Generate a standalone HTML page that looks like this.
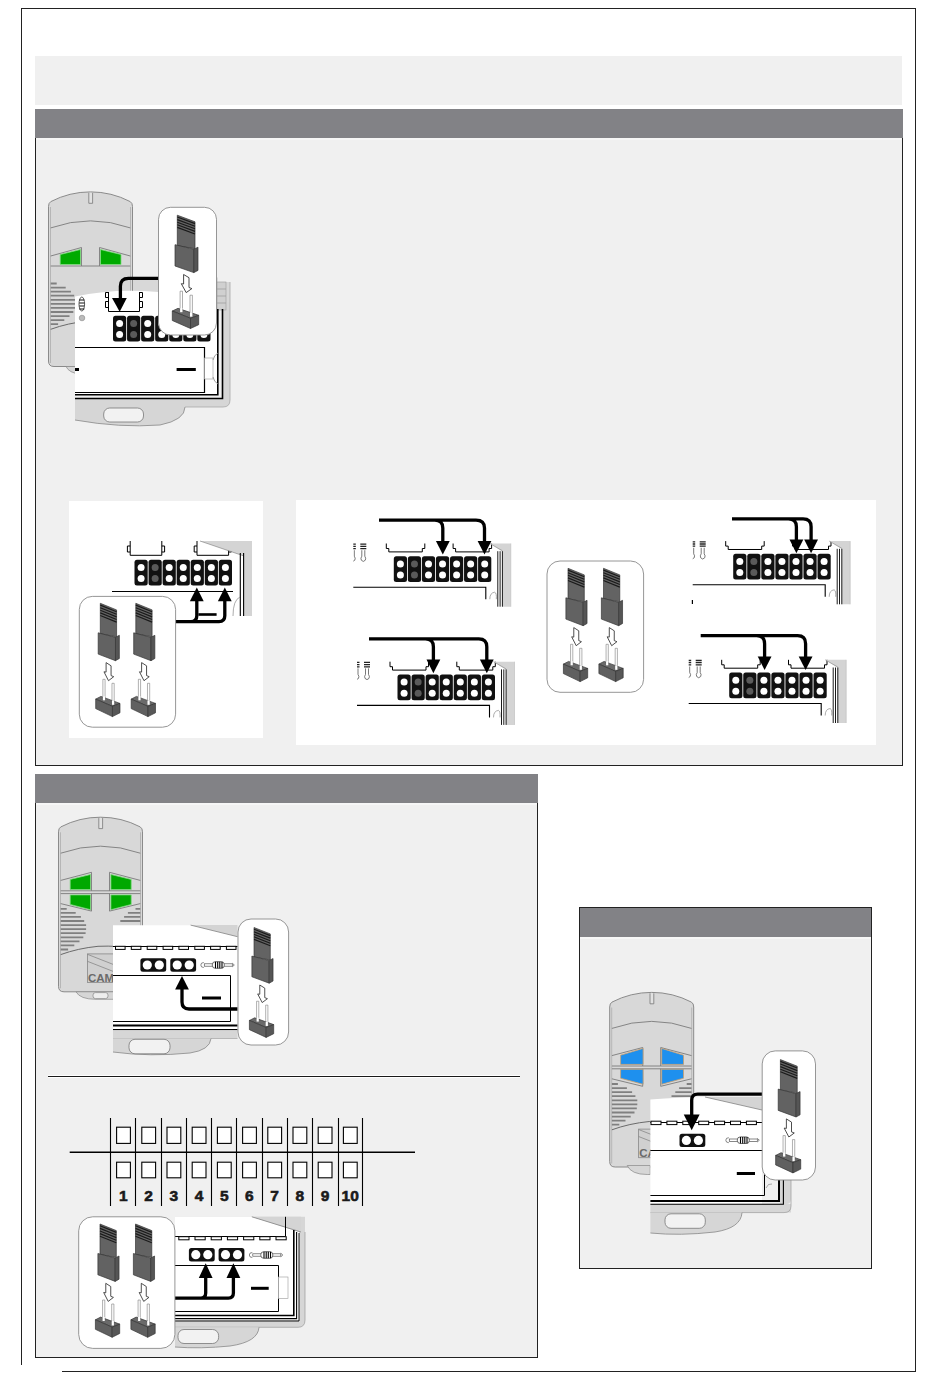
<!DOCTYPE html>
<html><head><meta charset="utf-8">
<style>
html,body{margin:0;padding:0;background:#fff;}
body{width:950px;height:1379px;position:relative;overflow:hidden;font-family:"Liberation Sans",sans-serif;}
.a{position:absolute;box-sizing:border-box;}
.lg{background:#f0f0f0;}
.hd{background:#828286;}
svg{position:absolute;overflow:visible;}
</style></head><body>
<!-- outer frame -->
<div class="a" style="left:21px;top:8px;width:895px;height:1px;background:#222"></div>
<div class="a" style="left:21px;top:8px;width:1px;height:1357px;background:#222"></div>
<div class="a" style="left:915px;top:8px;width:1px;height:1364px;background:#222"></div>
<div class="a" style="left:62px;top:1371px;width:854px;height:1px;background:#222"></div>

<!-- top gray box -->
<div class="a lg" style="left:35px;top:56px;width:867px;height:49px"></div>

<!-- section 1 -->
<div class="a lg" style="left:35px;top:137px;width:868px;height:629px;border:1px solid #222;border-top:none"></div>
<div class="a hd" style="left:35px;top:109px;width:868px;height:29px"></div><div class="a" style="left:36px;top:138px;width:866px;height:2px;background:#f6f6f6"></div>
<div class="a" style="left:69px;top:501px;width:194px;height:237px;background:#fff"></div>
<div class="a" style="left:296px;top:500px;width:580px;height:245px;background:#fff"></div>

<!-- section 2 -->
<div class="a lg" style="left:35px;top:802px;width:503px;height:556px;border:1px solid #222;border-top:none"></div>
<div class="a hd" style="left:35px;top:774px;width:503px;height:29px"></div><div class="a" style="left:36px;top:803px;width:501px;height:2px;background:#f6f6f6"></div>
<div class="a" style="left:48px;top:1075px;width:472px;height:3px;background:#fff"></div><div class="a" style="left:48px;top:1076px;width:472px;height:1px;background:#1a1a1a"></div>

<!-- section 3 -->
<div class="a lg" style="left:579px;top:907px;width:293px;height:362px;border:1px solid #222"></div>
<div class="a hd" style="left:580px;top:908px;width:291px;height:29px"></div><div class="a" style="left:580px;top:937px;width:291px;height:2px;background:#f6f6f6"></div>


<svg class="a" style="left:0;top:0" width="950" height="1379" viewBox="0 0 950 1379">
<defs>
 <g id="blk"><rect width="13.2" height="25.8" rx="2.5" fill="#111"/><circle cx="6.6" cy="7.7" r="3.5" fill="#fff"/><circle cx="6.6" cy="18.8" r="3.5" fill="#fff"/></g>
 <g id="blkg"><rect width="13.2" height="25.8" rx="2.5" fill="#111"/><circle cx="6.6" cy="7.7" r="3.5" fill="#5a5a5a"/><circle cx="6.6" cy="18.8" r="3.5" fill="#5a5a5a"/></g>
 <g id="row7"><use href="#blk"/><use href="#blkg" x="14.05"/><use href="#blk" x="28.1"/><use href="#blk" x="42.15"/><use href="#blk" x="56.2"/><use href="#blk" x="70.25"/><use href="#blk" x="84.3"/></g>
 <g id="jumper" stroke="#333" stroke-width="0.7" stroke-linejoin="round">
  <polygon points="0,0 17.7,6.6 17.7,33.5 0,30.5" fill="#636363"/>
  <path d="M0,1.8 L17.7,8.4 M0,4.4 L17.7,11 M0,7 L17.7,13.6 M0,9.6 L17.7,16.2 M0,12.2 L17.7,18.8" stroke="#1a1a1a" stroke-width="1.2"/>
  <polygon points="-2.3,29.5 16.5,34 16.5,57.4 -2.3,50.8" fill="#626262"/>
  <polygon points="16.5,34 20.7,32 20.7,55.2 16.5,57.4" fill="#555"/>
  <path d="M6.3,59.3 L11.7,62.5 V72.3 L14.6,73.4 L8.9,77.4 L4,68.5 L6.3,68.8 Z" fill="#fff" stroke="#333" stroke-width="0.9"/>
  <rect x="2.8" y="76" width="2.4" height="21" fill="#fff" stroke="#777" stroke-width="0.6"/>
  <rect x="12.7" y="80" width="2.4" height="21" fill="#fff" stroke="#777" stroke-width="0.6"/>
  <polygon points="-5,95.8 0.7,93.1 21.4,100.1 13.2,103.1" fill="#6a6a6a"/>
  <polygon points="-5,95.8 13.2,103.1 13.2,113.3 -5,105.3" fill="#606060"/>
  <polygon points="13.2,103.1 21.4,100.1 21.4,109.5 13.2,113.3" fill="#575757"/>
  <rect x="2.8" y="93" width="2.4" height="4" fill="#fff" stroke="none"/>
  <rect x="12.7" y="97" width="2.4" height="4.5" fill="#fff" stroke="none"/>
 </g>

 <g id="relay" stroke="#000" stroke-width="1" fill="none"><path d="M-2.5,0 V5 H0 V8.4 H33.5 V5 H36 V0"/></g>
 <g id="spring" stroke="#222" stroke-width="0.8" fill="none">
  <path d="M0,0 H6 M0,2.2 H6 M0,4.4 H6" stroke-width="1.3"/>
  <path d="M1.5,6 V12 Q0,14 1,16 Q3,18.5 5,16 Q6,14 4.5,12 V6" stroke="#555"/>
 </g>
 <g id="view">
  <use href="#row7"/>
  <use href="#relay" x="-5" y="-12.7"/>
  <use href="#relay" x="61.8" y="-12.7"/>
  <path d="M-40.5,31 H92 V43" stroke="#000" stroke-width="1.1" fill="none"/>
  <path d="M96,43 Q96,36.5 101,36 Q103,37 102.5,43" stroke="#888" stroke-width="0.7" fill="none"/>
  <polygon points="96,-12.7 117,-12.7 117,50.5 108.6,50.5 108.6,-4.5" fill="#d4d4d4"/>
  <path d="M96,-12.7 L108.6,-5.5" stroke="#888" stroke-width="0.6"/>
  <path d="M104,-5 V50.5 M106.3,-5 V50.5 M108.6,-5 V50.5" stroke="#000" stroke-width="0.9"/>
  <path d="M117,-12.7 V50.5" stroke="#bbb" stroke-width="0.6"/>
  <use href="#spring" x="-44" y="-12"/>
  <use href="#spring" x="-33.5" y="-12"/>
  <rect x="-52" y="-14" width="11.5" height="40" fill="#fff"/>
 </g>
 <polygon id="ahd" points="-6.9,0 6.9,0 0,13.6" fill="#000"/>

 <g id="blk2"><rect width="25.8" height="13.4" rx="2.5" fill="#111"/><circle cx="6.9" cy="6.7" r="4.6" fill="#fff"/><circle cx="18.9" cy="6.7" r="4.6" fill="#fff"/></g>
 <g id="resist" fill="none" stroke="#555" stroke-width="0.7">
  <rect x="4" y="-1.2" width="8.5" height="2.4" fill="#fff"/>
  <rect x="23.5" y="-1.2" width="8.5" height="2.4" fill="#fff"/>
  <path d="M3.5,-2.5 Q0.5,-2.5 0.5,0 Q0.5,2.5 3.5,2.5 M32,-1.8 L34,0 L32,1.8"/>
  <rect x="12" y="-3.3" width="12" height="6.6" rx="3" fill="#fff" stroke="#333"/>
  <path d="M15.2,-3.2 V3.2 M17.4,-3.3 V3.3 M19.5,-3.3 V3.3 M21.7,-3.2 V3.2" stroke="#000" stroke-width="1.1"/>
 </g>
 <g id="btn4">
  <g stroke="#7a7a7a" stroke-width="0.9" fill="none">
   <path d="M2.7,62.1 L33.5,54 V72.5 M2.7,72.5 H82.3 M2.7,75.3 H82.3 M33.5,75.3 V92.8 L2.7,85.3"/>
   <path d="M82.3,62.1 L51.5,54 V72.5 M51.5,75.3 V92.8 L82.3,85.3"/>
  </g>
 </g>
 <g id="slots8" fill="#fff" stroke="#000" stroke-width="1"></g>
 <g id="remote">
  <path d="M0.5,168 V13.5 Q0.5,10 2.8,8.6 A86,86 0 0 1 82.2,8.6 Q84.5,10 84.5,13.5 V168 Q84.5,173.5 79,173.5 H6 Q0.5,173.5 0.5,168 Z" fill="#d8d8d8" stroke="#8a8a8a" stroke-width="1"/>
  <path d="M2.5,14 V170 M82.5,14 V170" stroke="#a0a0a0" stroke-width="0.6" fill="none"/>
  <path d="M40.8,-0.2 V10.3 H44.6 V-0.2" stroke="#777" stroke-width="0.8" fill="#e2e2e2"/>
  <path d="M2.7,34.9 A119.4,119.4 0 0 1 82.3,34.9" stroke="#7a7a7a" stroke-width="0.9" fill="none"/>
  <path d="M2.7,136.3 Q20,130 40,128 Q60,127 82.3,131" stroke="#6a6a6a" stroke-width="1" fill="none"/>
 </g>
 <g id="stripesL" stroke="#808080" stroke-width="1.8"><path d="M2.7,90.50 H8.7 M2.7,94.57 H17.7 M2.7,98.64 H22.9 M2.7,102.71 H26.2 M2.7,106.78 H28.1 M2.7,110.85 H28.1 M2.7,114.92 H27.6 M2.7,118.99 H25.3 M2.7,123.06 H21.5 M2.7,127.13 H16.3 M2.7,131.20 H10.1"/></g>
 <g id="stripesR" stroke="#808080" stroke-width="1.8"><path d="M77.5,90.50 H82.3 M69.9,94.57 H82.3 M66.1,98.64 H82.3 M62.3,102.71 H82.3"/></g>
</defs>

<!-- ===== Illustration A (section 1 remote) ===== -->
<g id="illA">
 <use href="#remote" x="48" y="193"/>
 <use href="#stripesL" x="48" y="193"/>
 <path d="M66,366.5 Q69,373 80,374 V366.5 Z" fill="#d6d6d6" stroke="#888" stroke-width="0.7"/>
 <g transform="translate(48,193)" stroke="#7a7a7a" stroke-width="0.9" fill="none">
  <path d="M2.7,63 L33.5,54.5 L33.5,73 M2.7,73 H82.3 M51.5,73 L51.5,54.5 L82.3,63"/>
  <polygon points="12.2,61.5 32.5,56.5 32.5,71.5 12.2,71.5" fill="#00aa00" stroke="#7fdc7f" stroke-width="0.8"/>
  <polygon points="52.5,56.5 73,61.5 73,71.5 52.5,71.5" fill="#00aa00" stroke="#7fdc7f" stroke-width="0.8"/>
 </g>
 <!-- housing -->
 <rect x="133" y="277.5" width="85" height="25" fill="#d8d8d8"/><rect x="217" y="282" width="13" height="20" fill="#d8d8d8"/>
 <path d="M75,296.5 Q115,288 158,292 L217,292 L217,395 L75,395 Z" fill="#fff"/>
 <path d="M222.5,302 L230,302 L230,400 Q230,407 223,407 L75,407 L75,398.5 L222.5,398.5 Z" fill="#d6d6d6"/><path d="M230,282 V400 Q230,407 223,407 H185" stroke="#a8a8a8" stroke-width="0.8" fill="none"/>
 <rect x="217" y="282" width="9" height="28" fill="#d0d0d0" stroke="#999" stroke-width="0.6"/>
 <path d="M217,289 H226 M217,296 H226 M217,303 H226" stroke="#999" stroke-width="0.7"/>
 <path d="M217.8,309 V394.7 H75" stroke="#000" stroke-width="1.6" fill="none"/>
 <path d="M222.5,309 V398.5 H75" stroke="#000" stroke-width="1.6" fill="none"/>
 <path d="M75,407 L185,407 Q185,420 160,425 Q120,428 75,420 Z" fill="#d6d6d6"/>
 <path d="M185,407 Q185,420 160,425 Q120,428 75,420" stroke="#888" stroke-width="0.8" fill="none"/>
 <rect x="103.7" y="408" width="39.8" height="14" rx="6" fill="#f2f2f2" stroke="#777" stroke-width="0.8"/>
 <!-- battery -->
 <path d="M75,347.5 H204.5 V392.5 H75" fill="#fff" stroke="#000" stroke-width="1.2"/>
 <rect x="176.6" y="368" width="19.2" height="3" fill="#000"/>
 <rect x="75" y="368" width="4" height="3" fill="#000"/>
 <rect x="204.5" y="358" width="8.5" height="21" fill="#fff" stroke="#999" stroke-width="0.6"/><path d="M213,360 Q214,355 218,353 M213,377 Q214,382 218,384" stroke="#888" stroke-width="0.8" fill="none"/>
 <!-- relay -->
 <path d="M108.5,292 V311.5 H139.5 V292 M105.5,292.5 H108.5 V297.5 H105.5 Z M105.5,301.5 H108.5 V307.5 H105.5 Z M139.5,292.5 H142.5 V297.5 H139.5 Z M139.5,301.5 H142.5 V307.5 H139.5 Z" stroke="#000" stroke-width="1" fill="#fff"/>
 <!-- spring -->
 <ellipse cx="81.8" cy="304" rx="2.8" ry="7" fill="#fff" stroke="#333" stroke-width="0.8"/>
 <path d="M79.3,300 H84.3 M79.3,303 H84.3 M79.3,306 H84.3 M79.3,309 H84.3" stroke="#111" stroke-width="1"/>
 <circle cx="82" cy="318" r="2.8" fill="#bbb" stroke="#888" stroke-width="0.6"/>
 <use href="#row7" x="113" y="315.8"/>
 <!-- arrow -->
 <path d="M160,278.3 H128.4 Q120.4,278.3 120.4,286.3 V299" stroke="#000" stroke-width="3.3" fill="none"/>
 <polygon points="112,297.9 126.8,297.9 119.7,311.8" fill="#000"/>
 <!-- bubble -->
 <rect x="158.5" y="207.3" width="58" height="127.7" rx="12" fill="#fff" stroke="#8a8a8a" stroke-width="0.9"/>
 <use href="#jumper" x="177.3" y="215.2"/>
</g>

<!-- ===== Panel 1 ===== -->
<g id="p1">
 <use href="#row7" x="134.5" y="559.7"/>
 <g stroke="#000" stroke-width="1" fill="none">
  <path d="M130.2,541 V555.3 H161.8 V541 M130.2,546 H127.4 V552 H130.2 M161.8,546 H164.6 V552 H161.8"/>
  <path d="M197,541 V555.3 H228.6 V541 M197,546 H194.2 V552 H197 M228.6,546 H231.4 V552 H228.6"/>
  <path d="M112,591.5 H233" stroke-width="1"/>
 </g>
 <polygon points="200,541 252,541 252,616 244,616 244,556" fill="#d4d4d4"/>
 <path d="M200,541 L244,556" stroke="#777" stroke-width="0.6"/>
 <path d="M240.3,553 V616 M243.6,553 V616" stroke="#000" stroke-width="1.1"/>
 <path d="M233,616 Q233,600 240,597" stroke="#888" stroke-width="0.7" fill="none"/>
 <path d="M175.5,621.6 H191 Q196.8,621.6 196.8,615.8 V600 M175.5,621.6 H219 Q224.8,621.6 224.8,615.8 V600" stroke="#000" stroke-width="3.3" fill="none"/>
 <use href="#ahd" transform="translate(196.8,601.2) scale(1,-1)"/>
 <use href="#ahd" transform="translate(224.8,601.2) scale(1,-1)"/>
 <rect x="198.4" y="613.2" width="18.2" height="2.6" fill="#000"/>
 <rect x="79.3" y="596.4" width="96.3" height="130.8" rx="13" fill="#fff" stroke="#8a8a8a" stroke-width="0.9"/>
 <use href="#jumper" transform="translate(100.3,603.3) scale(0.92,1)"/>
 <use href="#jumper" transform="translate(135.8,603.3) scale(0.92,1)"/>
</g>

<!-- ===== Panel 2 ===== -->
<g id="p2">
 <use href="#view" x="393.8" y="556.2"/>
 <path d="M379,520.1 H476 Q484.5,520.1 484.5,528.1 V542 M379,520.1 H434.8 Q442.8,520.1 442.8,528.1 V542" stroke="#000" stroke-width="3.3" fill="none"/>
 <use href="#ahd" x="442.8" y="541"/><use href="#ahd" x="484.5" y="541"/>

 <use href="#view" x="397.5" y="674.4"/>
 <path d="M369,638.8 H478.8 Q486.8,638.8 486.8,646.8 V660 M369,638.8 H425.4 Q433.4,638.8 433.4,646.8 V660" stroke="#000" stroke-width="3.3" fill="none"/>
 <use href="#ahd" x="433.4" y="659.6"/><use href="#ahd" x="486.8" y="659.6"/>

 <use href="#view" x="733.2" y="553.8"/>
 <path d="M732,518.8 H803.1 Q811.1,518.8 811.1,526.8 V540 M732,518.8 H788.4 Q796.4,518.8 796.4,526.8 V540" stroke="#000" stroke-width="3.3" fill="none"/>
 <use href="#ahd" x="796.4" y="539.6"/><use href="#ahd" x="811.1" y="539.6"/>
 <path d="M692.4,600 V604" stroke="#000" stroke-width="1.2"/>

 <use href="#view" x="729.2" y="672.5"/>
 <path d="M700.7,635.7 H797.6 Q805.6,635.7 805.6,643.7 V657 M700.7,635.7 H756.6 Q764.6,635.7 764.6,643.7 V657" stroke="#000" stroke-width="3.3" fill="none"/>
 <use href="#ahd" x="764.6" y="656.4"/><use href="#ahd" x="805.6" y="656.4"/>

 <rect x="547" y="561" width="96.6" height="131.3" rx="13" fill="#fff" stroke="#8a8a8a" stroke-width="0.9"/>
 <use href="#jumper" transform="translate(568,568.3) scale(0.92,1)"/>
 <use href="#jumper" transform="translate(603.5,568.3) scale(0.92,1)"/>
</g>

<!-- ===== Section 2 remote ===== -->
<g id="s2a">
 <use href="#remote" x="58" y="818.3"/>
 <use href="#stripesL" x="58" y="818.3"/>
 <use href="#stripesR" x="58" y="818.3"/>
 <use href="#btn4" x="58" y="818.3"/>
 <g transform="translate(58,818.3)">
  <polygon points="12.2,61.1 32.5,56.2 32.5,71.3 12.2,71.3" fill="#00a800" stroke="#80d880" stroke-width="0.8"/>
  <polygon points="12.2,76.6 32.5,76.6 32.5,91.4 12.2,86.2" fill="#00a800" stroke="#80d880" stroke-width="0.8"/>
  <polygon points="52.9,56.2 73.2,61.1 73.2,71.3 52.9,71.3" fill="#00a800" stroke="#80d880" stroke-width="0.8"/>
  <polygon points="52.9,76.6 73.2,76.6 73.2,86.2 52.9,91.4" fill="#00a800" stroke="#80d880" stroke-width="0.8"/>
  <rect x="29.4" y="135.6" width="30" height="28.6" fill="#d0d0d0" stroke="#888" stroke-width="0.8"/>
  <path d="M29.4,136 L60,148 M29.4,143 L60,155" stroke="#888" stroke-width="0.8"/>
  <text x="30" y="163.4" font-family="Liberation Sans" font-weight="bold" font-size="11.5" fill="#6a6a6a">CAME</text>
  <path d="M18,173.5 Q22,181 38,181 L60,181 L60,173.5 Z" fill="#d6d6d6" stroke="#888" stroke-width="0.7"/>
  <rect x="35" y="174.3" width="15" height="6" rx="2.5" fill="#eee" stroke="#777" stroke-width="0.6"/>
 </g>
 <!-- pcb -->
 <path d="M113,925.3 H190.6 L237.5,936.7 V1030 H113 Z" fill="#fff"/>
 <polygon points="190.6,925.1 237.5,925.1 237.5,936.7" fill="#d4d4d4"/>
 <path d="M190.6,925.1 L237.5,936.7" stroke="#777" stroke-width="0.7"/>
 <path d="M113,946.5 H237.5" stroke="#000" stroke-width="1"/>
 <rect x="115.5" y="946.3" width="9.6" height="3.1" fill="#fff" stroke="#000" stroke-width="1"/><rect x="131.3" y="946.3" width="9.6" height="3.1" fill="#fff" stroke="#000" stroke-width="1"/><rect x="147.2" y="946.3" width="9.6" height="3.1" fill="#fff" stroke="#000" stroke-width="1"/><rect x="163.1" y="946.3" width="9.6" height="3.1" fill="#fff" stroke="#000" stroke-width="1"/><rect x="178.9" y="946.3" width="9.6" height="3.1" fill="#fff" stroke="#000" stroke-width="1"/><rect x="194.8" y="946.3" width="9.6" height="3.1" fill="#fff" stroke="#000" stroke-width="1"/><rect x="210.6" y="946.3" width="9.6" height="3.1" fill="#fff" stroke="#000" stroke-width="1"/><rect x="226.4" y="946.3" width="9.6" height="3.1" fill="#fff" stroke="#000" stroke-width="1"/>
 <use href="#blk2" x="140.4" y="958.3"/><use href="#blk2" x="170.3" y="958.3"/>
 <use href="#resist" x="200.3" y="965"/>
 <path d="M113,975.5 H230.5 V1021.5 H113" stroke="#000" stroke-width="1" fill="none"/>
 <rect x="202" y="996.5" width="19" height="3" fill="#000"/>
 <path d="M237.5,1009 H189 Q182,1009 182,1002 V988" stroke="#000" stroke-width="3.3" fill="none"/>
 <use href="#ahd" transform="translate(182,989.6) scale(1,-1)"/>
 <path d="M113,1025.6 H237.5" stroke="#000" stroke-width="2"/>
 <path d="M113,1029.6 H237.5" stroke="#000" stroke-width="1.2"/>
 <path d="M113,1030.2 H237.5 V1038.5 H113 Z" fill="#d6d6d6"/>
 <path d="M113,1038.5 H237.5" stroke="#999" stroke-width="0.6"/>
 <path d="M113,1038.5 H211 Q210,1050 190,1053 Q150,1057 113,1052 Z" fill="#d6d6d6"/>
 <path d="M211,1038.5 Q210,1050 190,1053 Q150,1057 113,1052" stroke="#888" stroke-width="0.8" fill="none"/>
 <rect x="129" y="1039.3" width="41" height="14.5" rx="6" fill="#f2f2f2" stroke="#777" stroke-width="0.8"/>
 <rect x="238" y="919" width="50.6" height="126" rx="13" fill="#fff" stroke="#8a8a8a" stroke-width="0.9"/>
 <use href="#jumper" transform="translate(254,927.5) scale(0.92,0.97)"/>
</g>

<!-- ===== Section 2 table ===== -->
<g id="s2t">
 <path d="M69.7,1152.2 H415" stroke="#000" stroke-width="1.6"/>
 <g stroke="#000" stroke-width="1.1" fill="none">
  <path d="M110.5,1118 V1206 M135.5,1118 V1206 M161.5,1118 V1206 M186.5,1118 V1206 M211.5,1118 V1206 M236.5,1118 V1206 M262.5,1118 V1206 M287.5,1118 V1206 M312.5,1118 V1206 M338.5,1118 V1206 M362.5,1118 V1206"/>
 </g>
 <rect x="116.6" y="1127.2" width="13.8" height="16.2" fill="#fff" stroke="#000" stroke-width="1.1"/><rect x="116.6" y="1162.2" width="13.8" height="15.6" fill="#fff" stroke="#000" stroke-width="1.1"/><rect x="141.8" y="1127.2" width="13.8" height="16.2" fill="#fff" stroke="#000" stroke-width="1.1"/><rect x="141.8" y="1162.2" width="13.8" height="15.6" fill="#fff" stroke="#000" stroke-width="1.1"/><rect x="167.0" y="1127.2" width="13.8" height="16.2" fill="#fff" stroke="#000" stroke-width="1.1"/><rect x="167.0" y="1162.2" width="13.8" height="15.6" fill="#fff" stroke="#000" stroke-width="1.1"/><rect x="192.2" y="1127.2" width="13.8" height="16.2" fill="#fff" stroke="#000" stroke-width="1.1"/><rect x="192.2" y="1162.2" width="13.8" height="15.6" fill="#fff" stroke="#000" stroke-width="1.1"/><rect x="217.4" y="1127.2" width="13.8" height="16.2" fill="#fff" stroke="#000" stroke-width="1.1"/><rect x="217.4" y="1162.2" width="13.8" height="15.6" fill="#fff" stroke="#000" stroke-width="1.1"/><rect x="242.6" y="1127.2" width="13.8" height="16.2" fill="#fff" stroke="#000" stroke-width="1.1"/><rect x="242.6" y="1162.2" width="13.8" height="15.6" fill="#fff" stroke="#000" stroke-width="1.1"/><rect x="267.8" y="1127.2" width="13.8" height="16.2" fill="#fff" stroke="#000" stroke-width="1.1"/><rect x="267.8" y="1162.2" width="13.8" height="15.6" fill="#fff" stroke="#000" stroke-width="1.1"/><rect x="293.0" y="1127.2" width="13.8" height="16.2" fill="#fff" stroke="#000" stroke-width="1.1"/><rect x="293.0" y="1162.2" width="13.8" height="15.6" fill="#fff" stroke="#000" stroke-width="1.1"/><rect x="318.2" y="1127.2" width="13.8" height="16.2" fill="#fff" stroke="#000" stroke-width="1.1"/><rect x="318.2" y="1162.2" width="13.8" height="15.6" fill="#fff" stroke="#000" stroke-width="1.1"/><rect x="343.4" y="1127.2" width="13.8" height="16.2" fill="#fff" stroke="#000" stroke-width="1.1"/><rect x="343.4" y="1162.2" width="13.8" height="15.6" fill="#fff" stroke="#000" stroke-width="1.1"/>
 <text x="123.4" y="1201.4" text-anchor="middle" font-family="Liberation Sans" font-weight="bold" font-size="15.5" fill="#1a1a1a" stroke="#1a1a1a" stroke-width="0.6">1</text><text x="148.6" y="1201.4" text-anchor="middle" font-family="Liberation Sans" font-weight="bold" font-size="15.5" fill="#1a1a1a" stroke="#1a1a1a" stroke-width="0.6">2</text><text x="173.8" y="1201.4" text-anchor="middle" font-family="Liberation Sans" font-weight="bold" font-size="15.5" fill="#1a1a1a" stroke="#1a1a1a" stroke-width="0.6">3</text><text x="199.0" y="1201.4" text-anchor="middle" font-family="Liberation Sans" font-weight="bold" font-size="15.5" fill="#1a1a1a" stroke="#1a1a1a" stroke-width="0.6">4</text><text x="224.2" y="1201.4" text-anchor="middle" font-family="Liberation Sans" font-weight="bold" font-size="15.5" fill="#1a1a1a" stroke="#1a1a1a" stroke-width="0.6">5</text><text x="249.4" y="1201.4" text-anchor="middle" font-family="Liberation Sans" font-weight="bold" font-size="15.5" fill="#1a1a1a" stroke="#1a1a1a" stroke-width="0.6">6</text><text x="274.6" y="1201.4" text-anchor="middle" font-family="Liberation Sans" font-weight="bold" font-size="15.5" fill="#1a1a1a" stroke="#1a1a1a" stroke-width="0.6">7</text><text x="299.8" y="1201.4" text-anchor="middle" font-family="Liberation Sans" font-weight="bold" font-size="15.5" fill="#1a1a1a" stroke="#1a1a1a" stroke-width="0.6">8</text><text x="325.0" y="1201.4" text-anchor="middle" font-family="Liberation Sans" font-weight="bold" font-size="15.5" fill="#1a1a1a" stroke="#1a1a1a" stroke-width="0.6">9</text><text x="350.2" y="1201.4" text-anchor="middle" font-family="Liberation Sans" font-weight="bold" font-size="15.5" fill="#1a1a1a" stroke="#1a1a1a" stroke-width="0.6">10</text>
</g>

<!-- ===== Section 2 lower pcb ===== -->
<g id="s2b">
 <path d="M175,1216.8 H305 V1320 Q305,1327.3 298,1327.3 H175 Z" fill="#d6d6d6"/>
 <path d="M305,1232 V1320 Q305,1327.3 298,1327.3 H175" stroke="#999" stroke-width="0.7" fill="none"/>
 <path d="M175,1216.8 H251.8 L299,1232 V1320 H175 Z" fill="#fff"/>
 <polygon points="251.8,1216.8 301,1216.8 301,1232" fill="#d4d4d4"/>
 <path d="M251.8,1216.8 L301,1232" stroke="#777" stroke-width="0.7"/>
 <path d="M285.5,1216.8 V1236.5 H175" stroke="#000" stroke-width="1" fill="none"/>
 <rect x="178.8" y="1236.7" width="10.2" height="3.1" fill="#fff" stroke="#000" stroke-width="1"/><rect x="195.0" y="1236.7" width="10.2" height="3.1" fill="#fff" stroke="#000" stroke-width="1"/><rect x="211.2" y="1236.7" width="10.2" height="3.1" fill="#fff" stroke="#000" stroke-width="1"/><rect x="227.4" y="1236.7" width="10.2" height="3.1" fill="#fff" stroke="#000" stroke-width="1"/><rect x="243.6" y="1236.7" width="10.2" height="3.1" fill="#fff" stroke="#000" stroke-width="1"/><rect x="259.8" y="1236.7" width="10.2" height="3.1" fill="#fff" stroke="#000" stroke-width="1"/><rect x="276.0" y="1236.7" width="10.2" height="3.1" fill="#fff" stroke="#000" stroke-width="1"/>
 <use href="#blk2" x="188.9" y="1248"/><use href="#blk2" x="218.6" y="1248"/>
 <use href="#resist" x="248.8" y="1255"/>
 <path d="M175,1265.5 H278.5 V1311.5 H175" stroke="#000" stroke-width="1" fill="none"/>
 <rect x="278.3" y="1277" width="9.7" height="21.6" fill="#fff" stroke="#999" stroke-width="0.6"/>
 <rect x="251" y="1286.8" width="17.7" height="3" fill="#000"/>
 <path d="M175,1298.1 H200.7 Q205.7,1298.1 205.7,1293.1 V1277 M175,1298.1 H228.4 Q233.4,1298.1 233.4,1293.1 V1277" stroke="#000" stroke-width="3.3" fill="none"/>
 <use href="#ahd" transform="translate(205.7,1278) scale(1,-1.08)"/>
 <use href="#ahd" transform="translate(233.4,1278) scale(1,-1.08)"/>
 <path d="M175,1315.5 H293.8 V1230" stroke="#000" stroke-width="1.6" fill="none"/>
 <path d="M175,1318.6 H296.6 V1232" stroke="#000" stroke-width="1.1" fill="none"/>
 <path d="M175,1321 H299 V1233" stroke="#000" stroke-width="0.9" fill="none"/>
 <path d="M175,1327.3 H259 Q258,1342 230,1346 Q200,1349 175,1347 Z" fill="#d6d6d6"/>
 <path d="M259,1327.3 Q258,1342 230,1346 Q200,1349 175,1347" stroke="#888" stroke-width="0.8" fill="none"/>
 <rect x="178" y="1329.5" width="40.6" height="14" rx="6" fill="#f2f2f2" stroke="#777" stroke-width="0.8"/>
 <rect x="78.7" y="1216.8" width="96.2" height="131.6" rx="14" fill="#fff" stroke="#8a8a8a" stroke-width="0.9"/>
 <use href="#jumper" transform="translate(100,1224) scale(0.92,1)"/>
 <use href="#jumper" transform="translate(135.5,1224) scale(0.92,1)"/>
</g>

<!-- ===== Section 3 remote ===== -->
<g id="s3">
 <use href="#remote" x="609.2" y="993.5"/>
 <use href="#stripesL" x="609.2" y="993.5"/>
 <use href="#stripesR" x="609.2" y="993.5"/>
 <use href="#btn4" x="609.2" y="993.5"/>
 <g transform="translate(609.2,993.5)">
  <polygon points="11.4,61.7 33.9,54.9 33.9,70.9 11.4,70.9" fill="#1e90ee" stroke="#c8a070" stroke-width="0.8"/>
  <polygon points="11.4,75.8 33.9,75.8 33.9,90.8 11.4,84.7" fill="#1e90ee" stroke="#c8a070" stroke-width="0.8"/>
  <polygon points="52.5,54.9 74.3,61.7 74.3,70.9 52.5,70.9" fill="#1e90ee" stroke="#c8a070" stroke-width="0.8"/>
  <polygon points="52.5,75.8 74.3,75.8 74.3,84.7 52.5,90.8" fill="#1e90ee" stroke="#c8a070" stroke-width="0.8"/>
  <rect x="29.4" y="135.6" width="30" height="28.6" fill="#d0d0d0" stroke="#888" stroke-width="0.8"/>
  <path d="M29.4,136 L60,148 M29.4,143 L60,155" stroke="#888" stroke-width="0.8"/>
  <text x="30" y="163.4" font-family="Liberation Sans" font-weight="bold" font-size="11.5" fill="#6a6a6a">CAME</text>
  <path d="M18,172 Q22,181 38,181 L41,181 L41,172 Z" fill="#d6d6d6" stroke="#888" stroke-width="0.7"/>
 </g>
 <path d="M650.4,1099.5 Q680,1097 705,1097 L762,1110 V1204 H650.4 Z" fill="#fff"/>
 <polygon points="705,1097 762,1097 762,1110" fill="#d4d4d4"/>
 <path d="M705,1097 L762,1110" stroke="#777" stroke-width="0.7"/>
 <path d="M650.4,1122.5 H762" stroke="#000" stroke-width="1"/>
 <rect x="651.0" y="1121.2" width="10" height="3.4" fill="#fff" stroke="#000" stroke-width="1"/><rect x="666.9" y="1121.2" width="10" height="3.4" fill="#fff" stroke="#000" stroke-width="1"/><rect x="682.8" y="1121.2" width="10" height="3.4" fill="#fff" stroke="#000" stroke-width="1"/><rect x="698.7" y="1121.2" width="10" height="3.4" fill="#fff" stroke="#000" stroke-width="1"/><rect x="714.6" y="1121.2" width="10" height="3.4" fill="#fff" stroke="#000" stroke-width="1"/><rect x="730.5" y="1121.2" width="10" height="3.4" fill="#fff" stroke="#000" stroke-width="1"/><rect x="746.4" y="1121.2" width="10" height="3.4" fill="#fff" stroke="#000" stroke-width="1"/>
 <use href="#blk2" x="679.5" y="1133.7"/>
 <use href="#resist" x="725.3" y="1140.2"/>
 <path d="M650.4,1150.5 H764.5 V1195.5 H650.4" stroke="#000" stroke-width="1" fill="none"/>
 <rect x="736.8" y="1172" width="18.2" height="3" fill="#000"/>
 <path d="M762,1094.2 H697.7 Q691.7,1094.2 691.7,1100.2 V1116" stroke="#000" stroke-width="3.3" fill="none"/>
 <use href="#ahd" transform="translate(691.7,1114.5) scale(1.15,1.16)"/>
 <path d="M780,1204 H786 Q791,1204 791,1199 V1110 L780,1110 Z" fill="#d6d6d6"/>
 <path d="M650.4,1204 H791 V1212.6 H650.4 Z" fill="#d6d6d6"/>
 <path d="M791,1110 V1206 Q791,1212.6 784,1212.6 H650.4" stroke="#999" stroke-width="0.7" fill="none"/>
 <path d="M650.4,1200.9 H779 V1178" stroke="#000" stroke-width="2" fill="none"/>
 <path d="M650.4,1204.2 H783.4 V1178" stroke="#000" stroke-width="1.1" fill="none"/>
 <path d="M766,1188 Q768,1183 772,1184" stroke="#888" stroke-width="0.7" fill="none"/>
 <path d="M650.4,1212.6 H742 Q741,1228 715,1232 Q680,1236 650.4,1233 Z" fill="#d6d6d6"/>
 <path d="M742,1212.6 Q741,1228 715,1232 Q680,1236 650.4,1233" stroke="#888" stroke-width="0.8" fill="none"/>
 <rect x="665" y="1213.8" width="40.3" height="14.5" rx="6" fill="#f2f2f2" stroke="#777" stroke-width="0.8"/>
 <rect x="762.2" y="1050.9" width="53.3" height="129.1" rx="13" fill="#fff" stroke="#8a8a8a" stroke-width="0.9"/>
 <use href="#jumper" transform="translate(780.4,1059.6) scale(0.95,1)"/>
</g>
</svg>

</body></html>
